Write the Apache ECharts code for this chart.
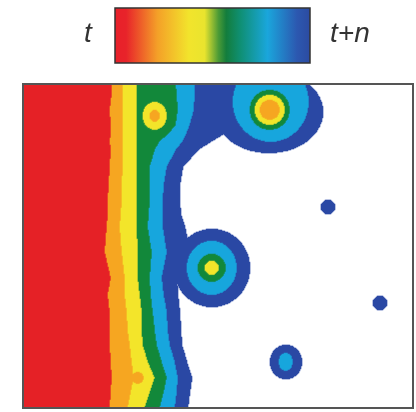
<!DOCTYPE html>
<html>
<head>
<meta charset="utf-8">
<script src="https://cdn.jsdelivr.net/npm/echarts@6/dist/echarts.min.js"></script>
<style>
html, body { margin: 0; padding: 0; background: #fff; }
#chart { width: 416px; height: 412px; }
</style>
</head>
<body>
<div id="chart"></div>
<script>
// band colours, earliest (t) to latest (t+n); white = not reached
var bandColors = ['#e52329', '#f6a623', '#f3e52d', '#15883d', '#1ba6df', '#2c4ba4'];

// front: rows (depth from top of the field) and x of each band boundary at that row
var frontRows   = [0, 10, 26, 41, 51, 57, 66, 83, 101, 117, 131, 143, 168, 194, 211, 228, 246, 261, 278, 294, 308, 324];
var redOrange   = [89, 89, 87, 88, 88, 87, 88, 87, 86, 85, 85, 84, 82, 88, 85, 87, 87, 87, 88, 89, 88, 87];
var orangeYel   = [100, 100, 100, 100, 100, 100, 100, 100, 99, 99, 98, 97, 99, 102, 102, 104, 105, 107, 109, 111, 108, 105];
var yelGreen    = [114, 114, 114, 114, 114, 114, 114, 114, 114, 114, 114, 114, 115, 115, 117, 119, 119, 120, 125, 132, 127, 122];
var greenCyan   = [153, 154, 155, 153, 145, 137, 132, 127, 127, 127, 126, 125, 129, 127, 128, 130, 132, 134, 139, 144, 141, 137];
var cyanBlue    = [172, 172, 171, 167, 163, 160, 153, 144, 141, 140, 140, 140, 144, 139, 141, 144, 145, 147, 152, 155, 154, 152];
var blueWhite   = [217, 217, 217, 212, 199, 189, 175, 160, 157, 157, 158, 162, 167, 154, 155, 157, 158, 159, 164, 169, 167, 165];

// isolated spots: centre, first band index, ring radii (x and y)
var spotX     = [132, 247, 248, 246, 189, 305, 357, 263, 115];
var spotY     = [32, 26, 18, 28, 184, 123, 219, 278, 294];
var spotLevel = [1, 1, 4, 5, 2, 5, 5, 4, 1];
var spotRx    = [[5, 12], [10, 15, 20], [38], [54], [7, 14, 25, 38], [7], [7], [7, 16], [6]];
var spotRy    = [[6, 14], [10, 15, 20], [40], [41], [7, 14, 27, 39], [7], [7], [9, 17], [6]];

var fieldW = 390, fieldH = 324;
var nx = 390, ny = 324;

function interp(rows, vals, y) {
    for (var k = 0; k < rows.length - 1; k++) {
        if (y <= rows[k + 1]) {
            var f = (y - rows[k]) / (rows[k + 1] - rows[k]);
            return vals[k] + f * (vals[k + 1] - vals[k]);
        }
    }
    return vals[vals.length - 1];
}

function levelAt(x, y) {
    var bounds = [redOrange, orangeYel, yelGreen, greenCyan, cyanBlue, blueWhite];
    var lv = 0;
    bounds.forEach(function (b) {
        if (x > interp(frontRows, b, y)) lv++;
    });
    for (var s = 0; s < spotX.length; s++) {
        for (var k = 0; k < spotRx[s].length; k++) {
            var dx = (x - spotX[s]) / spotRx[s][k];
            var dy = (y - spotY[s]) / spotRy[s][k];
            if (dx * dx + dy * dy <= 1) {
                lv = Math.min(lv, spotLevel[s] + k);
                break;
            }
        }
    }
    return lv;
}

var xCats = [], yCats = [], cells = [];
for (var i = 0; i < nx; i++) xCats.push(i);
for (var j = 0; j < ny; j++) yCats.push(j);
for (var i = 0; i < nx; i++) {
    for (var j = 0; j < ny; j++) {
        var lv = levelAt((i + 0.5) * fieldW / nx, (j + 0.5) * fieldH / ny);
        if (lv < 6) cells.push([i, j, lv]);
    }
}

var chart = echarts.init(document.getElementById('chart'));
var option = {
    animation: false,
    grid: { left: 23, top: 84, width: 390, height: 324 },
    xAxis: { type: 'category', data: xCats, show: false },
    yAxis: { type: 'category', data: yCats, inverse: true, show: false },
    visualMap: {
        type: 'piecewise',
        show: false,
        dimension: 2,
        pieces: bandColors.map(function (c, k) { return { value: k, color: c }; })
    },
    series: [{
        type: 'heatmap',
        data: cells,
        progressive: 0,
        progressiveThreshold: 1e7,
        itemStyle: { borderWidth: 0 }
    }],
    graphic: [
        {
            type: 'rect', z: 10,
            shape: { x: 115, y: 8, width: 195, height: 55 },
            style: {
                stroke: '#333', lineWidth: 1.5,
                fill: new echarts.graphic.LinearGradient(0, 0, 1, 0, [
                    { offset: 0, color: '#e8202a' },
                    { offset: 0.06, color: '#e8232a' },
                    { offset: 0.22, color: '#f4a028' },
                    { offset: 0.38, color: '#f2e42c' },
                    { offset: 0.46, color: '#e9e42e' },
                    { offset: 0.53, color: '#4c9b36' },
                    { offset: 0.57, color: '#137d3c' },
                    { offset: 0.64, color: '#0f8f72' },
                    { offset: 0.78, color: '#1aa6dc' },
                    { offset: 0.93, color: '#2c58b0' },
                    { offset: 1, color: '#2c4aa0' }
                ])
            }
        },
        {
            type: 'text', x: 88, y: 34, z: 10,
            style: { text: 't', fontFamily: 'Liberation Sans', fontStyle: 'italic', fontSize: 28, fill: '#333', align: 'center', verticalAlign: 'middle' }
        },
        {
            type: 'text', x: 330, y: 34, z: 10,
            style: { text: 't+n', fontFamily: 'Liberation Sans', fontStyle: 'italic', fontSize: 28, fill: '#333', align: 'left', verticalAlign: 'middle' }
        },
        {
            type: 'rect', z: 100,
            shape: { x: 23, y: 84, width: 390, height: 324 },
            style: { fill: 'none', stroke: '#555', lineWidth: 2 }
        }
    ]
};
chart.setOption(option);
</script>
</body>
</html>
